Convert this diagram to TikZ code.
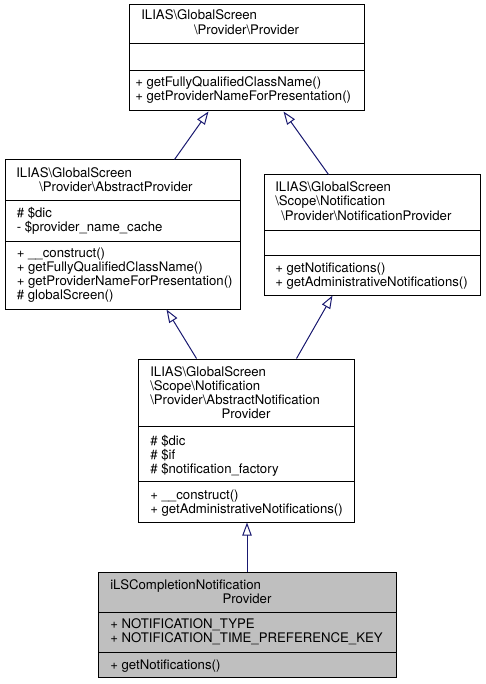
\documentclass[tikz,border=0pt]{standalone}
\usepackage{fontspec}
\setmainfont{TeX Gyre Heros}
\usetikzlibrary{arrows.meta,fit,calc}
\newcommand{\bsl}{\textbackslash{}}
\definecolor{edgeblue}{HTML}{191970}
\definecolor{hlgray}{HTML}{BFBFBF}
\begin{document}
\begin{tikzpicture}[x=0.75pt,y=-0.75pt,
  every node/.style={font=\fontsize{9.9pt}{10.5pt}\selectfont},
  lbl/.style={anchor=base west, inner sep=0},
  clbl/.style={anchor=base, inner sep=0},
  cls/.style={draw=black, line width=0.75pt, inner sep=0, fill=white},
  divider/.style={draw=black, line width=0.75pt},
  inh/.style={draw=edgeblue, line width=0.75pt, -{Triangle[open, length=9.75pt, width=7pt]}}]
\path[use as bounding box] (0,0) rectangle (485,684);

% ---- class boxes
\node[cls, fit={(129,5) (364,111)}] (b1) {};
\draw[divider] (129,44) -- (364,44);
\draw[divider] (129,71) -- (364,71);

\node[cls, fit={(5,160) (240,309)}] (b2) {};
\draw[divider] (5,201) -- (240,201);
\draw[divider] (5,241) -- (240,241);

\node[cls, fit={(264,175) (480,295)}] (b3) {};
\draw[divider] (264,230.5) -- (480,230.5);
\draw[divider] (264,255.5) -- (480,255.5);

\node[cls, fit={(138,359) (354,522)}] (b4) {};
\draw[divider] (138,426) -- (354,426);
\draw[divider] (138,481) -- (354,481);

\node[cls, fill=hlgray, fit={(98,572) (396,677)}] (b5) {};
\draw[divider] (98,612) -- (396,612);
\draw[divider] (98,652) -- (396,652);

% ---- texts box 1
\node[lbl] (t1a) at (141,20) {ILIAS\bsl GlobalScreen};
\node[clbl] (t1b) at (246.5,35) {\bsl Provider\bsl Provider};
\node[lbl] (t1c) at (135,87) {+ getFullyQualifiedClassName()};
\node[lbl] (t1d) at (135,101) {+ getProviderNameForPresentation()};

% ---- texts box 2
\node[lbl] (t2a) at (16,178) {ILIAS\bsl GlobalScreen};
\node[lbl] (t2b) at (39,192) {\bsl Provider\bsl AbstractProvider};
\node[lbl] (t2c) at (16.5,217) {\# \$dic};
\node[lbl] (t2d) at (16.5,231) {- \$provider\_name\_cache};
\node[lbl] (t2e) at (16.5,257) {+ \_\_construct()};
\node[lbl] (t2f) at (16.5,271) {+ getFullyQualifiedClassName()};
\node[lbl] (t2g) at (16.5,285) {+ getProviderNameForPresentation()};
\node[lbl] (t2h) at (16.5,299) {\# globalScreen()};

% ---- texts box 3
\node[lbl] (t3a) at (275,191) {ILIAS\bsl GlobalScreen};
\node[lbl] (t3b) at (275,205) {\bsl Scope\bsl Notification};
\node[lbl] (t3c) at (281,220) {\bsl Provider\bsl NotificationProvider};
\node[lbl] (t3d) at (275,272) {+ getNotifications()};
\node[lbl] (t3e) at (275,286) {+ getAdministrativeNotifications()};

% ---- texts box 4
\node[lbl] (t4a) at (150,376) {ILIAS\bsl GlobalScreen};
\node[lbl] (t4b) at (150,390) {\bsl Scope\bsl Notification};
\node[lbl] (t4c) at (150,404.5) {\bsl Provider\bsl AbstractNotification};
\node[clbl] (t4d) at (246,418.5) {Provider};
\node[lbl] (t4e) at (150,445) {\# \$dic};
\node[lbl] (t4f) at (150,459) {\# \$if};
\node[lbl] (t4g) at (150,473) {\# \$notification\_factory};
\node[lbl] (t4h) at (150,499.5) {+ \_\_construct()};
\node[lbl] (t4i) at (150,513.5) {+ getAdministrativeNotifications()};

% ---- texts box 5
\node[lbl] (t5a) at (110,589.5) {iLSCompletionNotification};
\node[clbl] (t5b) at (247,603.5) {Provider};
\node[lbl] (t5c) at (110,628.5) {+ NOTIFICATION\_TYPE};
\node[lbl] (t5d) at (110,642.5) {+ NOTIFICATION\_TIME\_PREFERENCE\_KEY};
\node[lbl] (t5e) at (110,669) {+ getNotifications()};

% ---- inheritance connectors
\draw[inh] ($(b2.north west)+(170,0)$) -- ($(b1.south west)+(80,0)$);
\draw[inh] ($(b3.north west)+(65,0)$) -- ($(b1.south west)+(155,0)$);
\draw[inh] ($(b4.north west)+(59,0)$) -- ($(b2.south west)+(162,0)$);
\draw[inh] ($(b4.north west)+(159,0)$) -- ($(b3.south west)+(69,0)$);
\draw[inh] (b5.north) -- (b5.north |- b4.south);
\end{tikzpicture}
\end{document}
